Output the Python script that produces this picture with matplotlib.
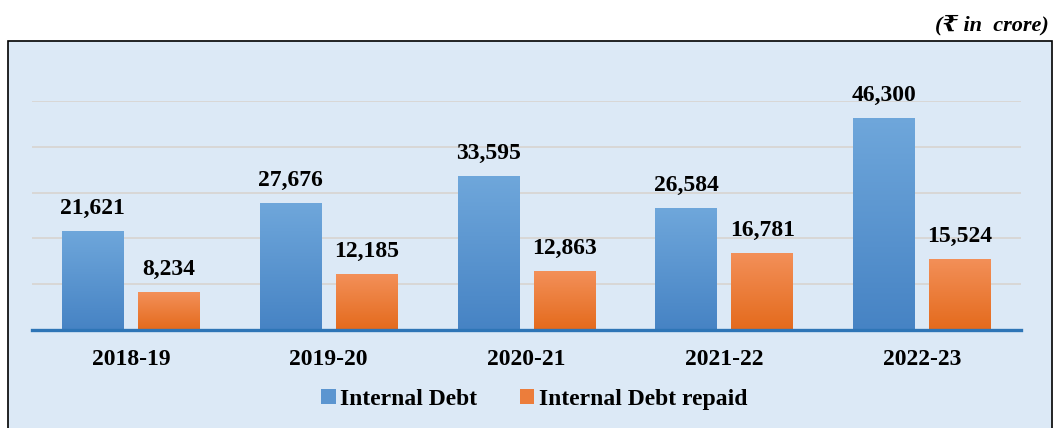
import numpy as np
import matplotlib
matplotlib.use('Agg')
import matplotlib.pyplot as plt
from matplotlib.patches import Rectangle
from matplotlib.colors import LinearSegmentedColormap

years = ['2018-19', '2019-20', '2020-21', '2021-22', '2022-23']
internal_debt = [21621, 27676, 33595, 26584, 46300]
debt_repaid = [8234, 12185, 12863, 16781, 15524]
series_names = ['Internal Debt', 'Internal Debt repaid']

SERIF = ['Liberation Serif', 'DejaVu Serif', 'DejaVu Sans']
BG = '#dce9f6'
FS = 17

fig = plt.figure(figsize=(10.56, 4.28), dpi=100)

# outer framed panel (behind the axes)
fig.patches.append(Rectangle((8 / 1056, -0.01), 1044 / 1056, 1 - 41 / 428 + 0.01,
                             transform=fig.transFigure, facecolor=BG,
                             edgecolor='black', linewidth=1.2, zorder=-1))
fig.text(1049 / 1056, 1 - 30 / 428, '(\u20b9 in  crore)', ha='right', va='baseline',
         fontsize=16, fontweight='bold', fontstyle='italic', family=SERIF)

ax = fig.add_axes([32 / 1056, 98 / 428, 989 / 1056, 229 / 428])
ax.set_facecolor('none')
ax.set_yticks(np.arange(10000, 50001, 10000))
ax.yaxis.grid(True, color='#d8d6d3', linewidth=1.3)
ax.set_axisbelow(True)
for s in ax.spines.values():
    s.set_visible(False)
ax.tick_params(left=False, bottom=False, labelleft=False)

blue_cm = LinearSegmentedColormap.from_list('b', ['#4683c4', '#6fa7db'])
orange_cm = LinearSegmentedColormap.from_list('o', ['#e46a1c', '#f39059'])
grad = np.linspace(0, 1, 256).reshape(-1, 1)

width = 0.313
offset = 0.192
x = np.arange(len(years))
for vals, off, cmap, name in [(internal_debt, -offset, blue_cm, series_names[0]),
                              (debt_repaid, offset, orange_cm, series_names[1])]:
    bars = ax.bar(x + off, vals, width, color=cmap(0.5), label=name, zorder=2)
    for b, v in zip(bars, vals):
        x0, w, h = b.get_x(), b.get_width(), b.get_height()
        im = ax.imshow(grad, cmap=cmap, origin='lower', aspect='auto',
                       extent=(x0, x0 + w, 0, h), zorder=3)
        im.set_clip_path(b)
        ax.text(x0 + w / 2, h + 2600, '{:,}'.format(v), ha='center', va='bottom',
                fontsize=FS, fontweight='bold', family=SERIF, clip_on=False)

ax.axhline(0, color='#2e75b6', linewidth=2.4, zorder=4, clip_on=False)
ax.set_xlim(-0.5, len(years) - 0.5)
ax.set_ylim(0, 50000)

ax.set_xticks(x)
ax.set_xticklabels(years, fontsize=FS, fontweight='bold', family=SERIF)
ax.tick_params(axis='x', pad=10)

leg = ax.legend(loc='upper center', bbox_to_anchor=(0.508, -0.165), ncol=2, frameon=False,
                prop={'family': SERIF, 'weight': 'bold', 'size': FS},
                handlelength=0.6, handleheight=0.6, handletextpad=0.2, columnspacing=1.8)

fig.savefig('out.png', dpi=100)
